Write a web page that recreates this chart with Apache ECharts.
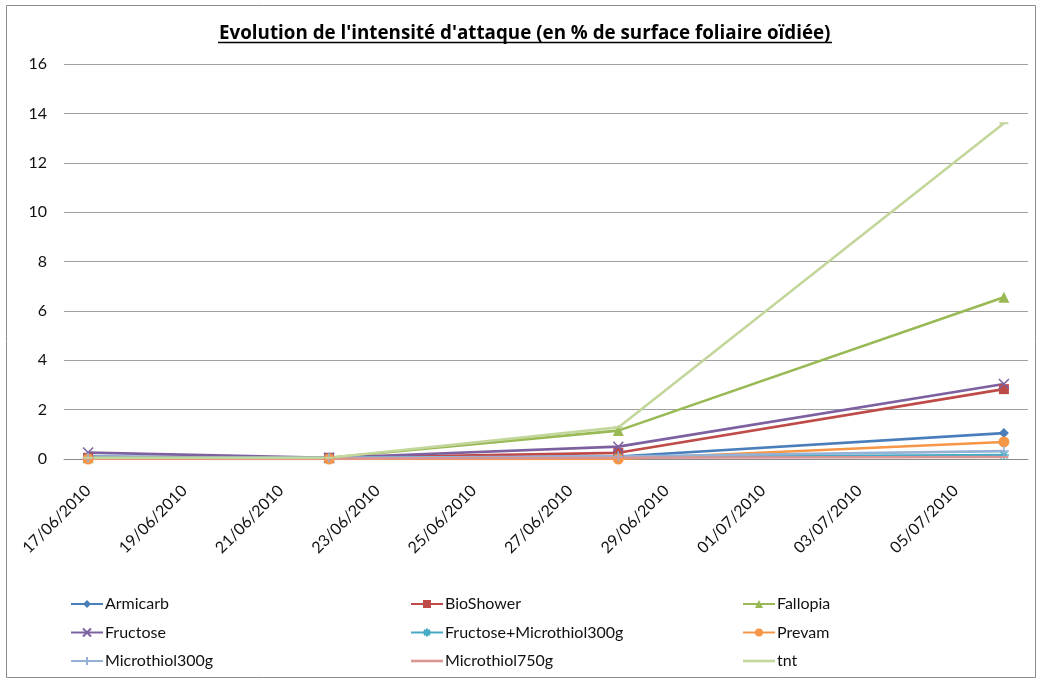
<!DOCTYPE html>
<html><head><meta charset="utf-8">
<script src="https://cdn.jsdelivr.net/npm/echarts@6/dist/echarts.min.js"></script>
<style>html,body{margin:0;padding:0;background:#fff}#c{width:1037px;height:682px}</style>
</head><body><div id="c"></div>
<script>
// Category axis: every day from 17/06/2010 to 06/07/2010
const axisDays = ['17/06/2010','18/06/2010','19/06/2010','20/06/2010','21/06/2010','22/06/2010','23/06/2010','24/06/2010','25/06/2010','26/06/2010','27/06/2010','28/06/2010','29/06/2010','30/06/2010','01/07/2010','02/07/2010','03/07/2010','04/07/2010','05/07/2010','06/07/2010'];
// Observation dates
const sampleDates = ['17/06/2010','22/06/2010','28/06/2010','06/07/2010'];
// Series values (% leaf surface with powdery mildew)
const armicarb      = [0.10, 0.05, 0.10, 1.05];
const bioShower     = [0.05, 0.05, 0.25, 2.83];
const fallopia      = [0.05, 0.05, 1.15, 6.55];
const fructose      = [0.26, 0.05, 0.50, 3.04];
const fructoseMicro = [0.05, 0.05, 0.08, 0.16];
const prevam        = [0.00, 0.00, 0.00, 0.69];
const microthiol300 = [0.05, 0.05, 0.10, 0.32];
const microthiol750 = [0.02, 0.02, 0.05, 0.08];
const tnt           = [0.05, 0.05, 1.28, 13.6];
const yTicks = [0, 2, 4, 6, 8, 10, 12, 14, 16];

const seriesNames = ['Armicarb','BioShower','Fallopia','Fructose','Fructose+Microthiol300g','Prevam','Microthiol300g','Microthiol750g','tnt'];
const seriesValues = [armicarb, bioShower, fallopia, fructose, fructoseMicro, prevam, microthiol300, microthiol750, tnt];
const colors = ['#4A7EBB','#BE4B48','#98B954','#7D60A0','#46AAC5','#F79646','#94B1D6','#D99694','#C3D69B'];
const symbols = ['diamond','rect','triangle',
  'path://M0,0L10,10M10,0L0,10',
  'path://M5,0V10M0,5H10M1.5,1.5L8.5,8.5M8.5,1.5L1.5,8.5',
  'circle',
  'path://M5,0V10M0,5H10',
  'rect','rect'];
const symbolSizes = [10,10,11,10,10,11,10,[9,2],[9,2]];
const lineOnlyIcon = 'path://M0,0H32V2.6H0Z';

const series = seriesNames.map((n, i) => ({
  name: n, type: 'line',
  data: sampleDates.map((d, j) => [d, seriesValues[i][j]]),
  symbol: symbols[i], symbolSize: symbolSizes[i],
  showAllSymbol: true,
  lineStyle: {color: colors[i], width: 2.6},
  itemStyle: {color: colors[i], borderColor: colors[i], borderWidth: (i===3||i===4||i===6)?1.5:0},
  emphasis: {disabled: true},
  animation: false
}));

const FONT = 'Lato';
const legendCols = [[0,3,6],[1,4,7],[2,5,8]];
const legendLefts = [65, 405, 737];

const chart = echarts.init(document.getElementById('c'), null, {renderer: 'canvas'});
chart.setOption({
  backgroundColor: '#fff',
  animation: false,
  title: {
    text: "Evolution de l'intensité d'attaque (en % de surface foliaire oïdiée)",
    left: 214, top: 19,
    textStyle: {fontFamily: 'Open Sans', fontSize: 18.8, fontWeight: 'bold', color: '#000'}
  },
  graphic: [
    {type: 'rect', shape: {x: 6.5, y: 5.5, width: 1029, height: 672}, style: {fill: 'none', stroke: '#8c8c8c', lineWidth: 1}, silent: true},
    {type: 'line', shape: {x1: 218, y1: 42.5, x2: 832, y2: 42.5}, style: {stroke: '#000', lineWidth: 1.3}, silent: true}
  ],
  grid: {left: 64, right: 9, top: 64, bottom: 223, containLabel: false},
  xAxis: {
    type: 'category', data: axisDays, boundaryGap: true,
    axisLine: {show: true, lineStyle: {color: '#8c8c8c', width: 1}},
    axisTick: {show: false},
    axisLabel: {interval: 1, rotate: 45, margin: 29, fontFamily: FONT, fontSize: 16, color: '#111'},
    splitLine: {show: false}
  },
  yAxis: {
    type: 'value', min: 0, max: 16, interval: 2,
    axisLine: {show: false}, axisTick: {show: false},
    axisLabel: {margin: 17, fontFamily: FONT, fontSize: 16, color: '#111',
      formatter: v => yTicks.includes(v) ? String(v) : ''},
    splitLine: {show: true, lineStyle: {color: '#a0a0a0', width: 1}}
  },
  legend: legendCols.map((col, k) => ({
    orient: 'vertical', left: legendLefts[k], top: 591, itemGap: 12.5,
    itemWidth: 32, itemHeight: 10,
    data: col.map(i => (i === 7 || i === 8) ? {name: seriesNames[i], icon: lineOnlyIcon} : seriesNames[i]),
    textStyle: {fontFamily: FONT, fontSize: 16, color: '#111', padding: [0,0,0,-3]},
    selectedMode: false
  })),
  series: series
});
</script>
</body></html>
